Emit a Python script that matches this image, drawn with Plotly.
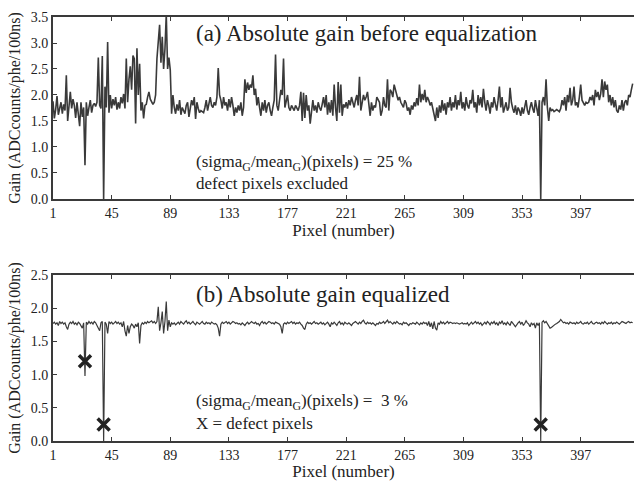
import plotly.graph_objects as go

gain_before = [
    1.88, 1.55, 1.72, 1.98, 1.62, 1.78, 1.86, 1.64, 1.82, 1.70,
    2.38, 1.50, 1.84, 2.06, 1.74, 1.92, 1.80, 1.56, 1.86, 1.68,
    1.40, 1.86, 1.58, 1.76, 0.65, 1.86, 1.60, 1.76, 1.90, 1.66,
    1.80, 1.84, 1.78, 1.86, 2.72, 1.80, 1.74, 2.75, 0.00, 2.16,
    1.76, 3.02, 1.66, 2.00, 1.74, 1.92, 1.80, 1.96, 1.72, 1.86,
    1.74, 1.96, 1.84, 2.02, 1.74, 2.70, 1.86, 2.30, 2.55, 2.10,
    2.76, 2.70, 1.45, 2.90, 2.00, 2.60, 1.70, 1.86, 1.55, 1.80,
    1.82, 1.96, 2.06, 1.92, 1.86, 1.82, 1.86, 2.00, 2.70, 3.00,
    3.35, 2.62, 3.12, 2.50, 2.88, 3.55, 2.50, 2.72, 2.48, 1.64,
    2.00, 1.76, 1.64, 1.82, 1.70, 1.90, 1.62, 1.76, 1.70, 1.64,
    1.80, 1.86, 1.58, 1.76, 1.90, 1.80, 1.96, 1.54, 1.86, 1.74,
    1.66, 1.70, 1.68, 1.66, 1.76, 1.90, 1.70, 1.86, 1.96, 1.80,
    1.76, 1.86, 1.80, 1.96, 2.52, 2.00, 1.90, 1.74, 1.96, 1.80,
    1.86, 1.70, 1.92, 1.76, 1.96, 1.80, 1.60, 1.76, 1.66, 1.80,
    1.70, 1.86, 1.60, 1.76, 2.30, 2.04, 2.24, 2.10, 2.20, 2.14,
    2.38, 2.00, 2.12, 1.80, 1.96, 1.76, 1.60, 1.86, 1.70, 1.90,
    1.66, 1.80, 1.86, 1.70, 1.60, 1.76, 1.90, 2.78, 1.80, 1.70,
    1.86, 2.10, 2.00, 2.70, 1.76, 1.86, 2.00, 1.76, 1.70, 1.80,
    1.74, 1.70, 1.80, 1.74, 1.70, 1.80, 2.06, 1.50, 2.04, 1.56,
    2.00, 1.70, 1.80, 1.45, 1.76, 1.90, 1.70, 1.80, 1.66, 1.86,
    1.76, 1.70, 1.82, 1.96, 1.76, 2.00, 1.62, 1.86, 1.66, 1.90,
    1.60, 2.20, 1.76, 1.50, 2.25, 1.66, 2.20, 1.60, 1.82, 1.76,
    1.86, 1.74, 1.90, 1.80, 1.96, 1.86, 1.76, 1.90, 2.00, 1.80,
    2.35, 1.70, 1.86, 2.00, 1.90, 1.96, 2.06, 1.76, 1.60, 1.86,
    1.70, 1.80, 1.76, 1.96, 1.90, 1.86, 1.60, 1.70, 1.96, 1.80,
    1.76, 2.30, 1.70, 2.10, 2.06, 1.96, 2.20, 2.06, 2.00, 1.90,
    1.96, 1.86, 1.80, 1.76, 1.90, 1.84, 1.70, 1.76, 1.62, 1.80,
    1.72, 1.86, 1.78, 1.94, 1.80, 2.20, 1.86, 2.02, 1.90, 2.10,
    1.86, 1.96, 1.90, 1.80, 1.86, 1.74, 1.66, 1.50, 1.76, 1.56,
    1.80, 1.66, 1.90, 1.70, 1.84, 1.62, 1.86, 1.76, 1.96, 1.70,
    1.86, 1.76, 2.00, 1.72, 1.90, 1.80, 2.06, 1.74, 1.86, 1.70,
    1.96, 1.80, 1.74, 1.90, 1.84, 2.10, 1.76, 1.86, 1.66, 2.00,
    1.80, 1.96, 1.76, 2.12, 1.86, 1.70, 1.90, 1.80, 1.64, 1.86,
    1.76, 1.96, 1.82, 1.70, 1.90, 2.16, 1.76, 1.96, 1.66, 1.80,
    1.86, 1.70, 1.76, 2.14, 1.86, 1.74, 1.66, 1.80, 1.62, 1.76,
    1.70, 1.60, 1.76, 1.64, 1.80, 1.90, 1.70, 1.62, 1.76, 1.86,
    1.74, 1.66, 1.90, 1.70, 1.60, 1.90, 0.00, 1.86, 1.96, 1.80,
    2.30, 1.76, 1.50, 1.76, 1.70, 1.72, 1.68, 1.70, 1.72, 1.70,
    1.68, 1.74, 1.90, 1.80, 1.96, 1.70, 2.00, 1.86, 2.14, 1.80,
    1.90, 2.16, 1.80, 1.86, 1.76, 1.96, 2.20, 1.90, 1.86, 1.80,
    1.86, 1.84, 1.86, 1.96, 1.90, 2.00, 1.80, 2.10, 1.96, 2.06,
    1.90, 2.02, 2.30, 1.96, 2.26, 2.10, 2.20, 1.86, 2.00, 1.80,
    1.96, 1.76, 1.90, 1.70, 1.66, 1.80, 1.72, 1.90, 1.70, 1.86,
    1.90, 1.80, 2.00, 1.96, 2.10, 2.22,
]

gain_after = [
    1.77, 1.79, 1.76, 1.78, 1.74, 1.80, 1.77, 1.79, 1.76, 1.78,
    1.72, 1.68, 1.76, 1.79, 1.77, 1.80, 1.76, 1.78, 1.75, 1.79,
    1.77, 1.72, 1.70, 1.78, 0.98, 1.79, 1.76, 1.80, 1.77, 1.79,
    1.76, 1.80, 1.78, 1.74, 1.70, 1.66, 1.78, 1.80, 0.00, 1.79,
    1.76, 1.62, 1.80, 1.77, 1.79, 1.76, 1.78, 1.80, 1.77, 1.79,
    1.76, 1.78, 1.72, 1.80, 1.66, 1.58, 1.74, 1.62, 1.72, 1.76,
    1.74, 1.70, 1.76, 1.72, 1.78, 1.47, 1.74, 1.78, 1.76, 1.79,
    1.77, 1.80, 1.78, 1.79, 1.81, 1.78, 1.80, 1.77, 1.80, 2.02,
    1.66, 1.78, 1.95, 1.62, 1.80, 2.10, 1.66, 1.82, 1.72, 1.78,
    1.76, 1.78, 1.75, 1.77, 1.79, 1.76, 1.80, 1.78, 1.76, 1.79,
    1.81, 1.77, 1.79, 1.76, 1.78, 1.80, 1.77, 1.75, 1.79, 1.78,
    1.76, 1.78, 1.80, 1.77, 1.76, 1.79, 1.77, 1.78, 1.76, 1.79,
    1.78, 1.76, 1.77, 1.75, 1.70, 1.58, 1.76, 1.79, 1.77, 1.78,
    1.80, 1.77, 1.79, 1.76, 1.78, 1.80, 1.79, 1.77, 1.78, 1.76,
    1.77, 1.75, 1.78, 1.76, 1.74, 1.77, 1.79, 1.76, 1.78, 1.80,
    1.78, 1.77, 1.79, 1.76, 1.77, 1.74, 1.78, 1.80, 1.77, 1.79,
    1.76, 1.78, 1.80, 1.79, 1.77, 1.78, 1.76, 1.79, 1.78, 1.77,
    1.76, 1.72, 1.62, 1.76, 1.78, 1.76, 1.79, 1.77, 1.78, 1.80,
    1.77, 1.79, 1.76, 1.78, 1.77, 1.79, 1.76, 1.74, 1.70, 1.68,
    1.76, 1.79, 1.77, 1.78, 1.76, 1.79, 1.80, 1.77, 1.78, 1.76,
    1.77, 1.79, 1.76, 1.78, 1.75, 1.77, 1.79, 1.76, 1.72, 1.78,
    1.76, 1.79, 1.77, 1.74, 1.78, 1.80, 1.76, 1.78, 1.75, 1.79,
    1.77, 1.76, 1.78, 1.75, 1.74, 1.77, 1.79, 1.80, 1.78, 1.76,
    1.79, 1.77, 1.80, 1.82, 1.78, 1.76, 1.79, 1.77, 1.78, 1.76,
    1.78, 1.76, 1.74, 1.77, 1.76, 1.79, 1.77, 1.78, 1.80, 1.77,
    1.79, 1.82, 1.78, 1.80, 1.78, 1.76, 1.79, 1.77, 1.80, 1.78,
    1.76, 1.77, 1.75, 1.79, 1.77, 1.78, 1.76, 1.74, 1.77, 1.76,
    1.78, 1.77, 1.76, 1.79, 1.77, 1.75, 1.78, 1.76, 1.79, 1.77,
    1.78, 1.74, 1.80, 1.72, 1.78, 1.69, 1.80, 1.70, 1.67, 1.78,
    1.76, 1.80, 1.77, 1.79, 1.76, 1.78, 1.80, 1.77, 1.79, 1.78,
    1.77, 1.78, 1.77, 1.78, 1.77, 1.76, 1.77, 1.78, 1.76, 1.77,
    1.76, 1.78, 1.74, 1.77, 1.79, 1.76, 1.78, 1.80, 1.77, 1.79,
    1.76, 1.78, 1.74, 1.77, 1.79, 1.76, 1.80, 1.78, 1.75, 1.79,
    1.77, 1.80, 1.76, 1.78, 1.74, 1.79, 1.77, 1.81, 1.76, 1.78,
    1.75, 1.79, 1.77, 1.74, 1.80, 1.78, 1.75, 1.72, 1.76, 1.78,
    1.80, 1.76, 1.79, 1.74, 1.77, 1.81, 1.78, 1.76, 1.72, 1.78,
    1.75, 1.77, 1.70, 1.78, 1.74, 1.78, 0.00, 1.79, 1.81, 1.78,
    1.80, 1.76, 1.72, 1.70, 1.71, 1.73, 1.75, 1.76, 1.77, 1.78,
    1.80, 1.83, 1.80, 1.78, 1.79, 1.77, 1.78, 1.76, 1.79, 1.78,
    1.77, 1.78, 1.76, 1.79, 1.77, 1.78, 1.80, 1.77, 1.76, 1.78,
    1.77, 1.79, 1.76, 1.78, 1.80, 1.77, 1.76, 1.78, 1.79, 1.77,
    1.78, 1.76, 1.79, 1.77, 1.80, 1.78, 1.76, 1.78, 1.77, 1.79,
    1.76, 1.78, 1.77, 1.79, 1.78, 1.76, 1.78, 1.80, 1.79, 1.78,
    1.77, 1.79, 1.80, 1.78, 1.79, 1.78,
]

pixels_before = list(range(1, len(gain_before) + 1))
pixels_after = list(range(1, len(gain_after) + 1))

defect_pixels = [25, 39, 367]
defect_marks = [1.2, 0.25, 0.25]

x_ticks = [1, 45, 89, 133, 177, 221, 265, 309, 353, 397]
y_ticks_top = [0.0, 0.5, 1.0, 1.5, 2.0, 2.5, 3.0, 3.5]
y_ticks_bot = [0.0, 0.5, 1.0, 1.5, 2.0, 2.5]

FONT = "Liberation Serif, Times New Roman, DejaVu Serif, serif"
INK = "#3a3a3a"
TXT = "#222222"

fig = go.Figure()
fig.add_trace(go.Scatter(x=pixels_before, y=gain_before, mode="lines",
                         line=dict(color=INK, width=1.6), xaxis="x", yaxis="y",
                         showlegend=False))
fig.add_trace(go.Scatter(x=pixels_after, y=gain_after, mode="lines",
                         line=dict(color=INK, width=1.2), xaxis="x2", yaxis="y2",
                         showlegend=False))
fig.add_trace(go.Scatter(x=defect_pixels, y=defect_marks, mode="markers",
                         marker=dict(symbol="x-thin", size=12,
                                     line=dict(color=TXT, width=3.5)),
                         xaxis="x2", yaxis="y2", showlegend=False))

axis_common = dict(
    showline=True, linecolor=INK, linewidth=2, ticks="inside", ticklen=4,
    tickcolor=INK, showgrid=False, zeroline=False, automargin=False,
    tickfont=dict(family=FONT, size=14, color=TXT),
)
xt = dict(text="Pixel (number)", font=dict(family=FONT, size=17, color=TXT), standoff=4)
yt = dict(text="Gain (ADCcounts/phe/100ns)", font=dict(family=FONT, size=16, color=TXT), standoff=6)

fig.update_layout(
    width=634, height=481,
    margin=dict(l=53, r=0, t=17, b=40),
    paper_bgcolor="white", plot_bgcolor="white",
    font=dict(family=FONT, color=TXT),
    xaxis=dict(domain=[0, 1], range=[1, 437], anchor="y", tickvals=x_ticks,
               mirror="ticks", title=xt, **axis_common),
    yaxis=dict(domain=[0.5708, 1], range=[0, 3.5], anchor="x", tickvals=y_ticks_top,
               tickformat=".1f", title=yt, **axis_common),
    xaxis2=dict(domain=[0, 1], range=[1, 437], anchor="y2", tickvals=x_ticks,
                mirror="ticks", title=xt, **axis_common),
    yaxis2=dict(domain=[0, 0.3915], range=[0, 2.5], anchor="x2", tickvals=y_ticks_bot,
                tickformat=".1f", title=yt, **axis_common),
)

def note(text, x, y, xref, yref, size):
    return dict(text=text, x=x, y=y, xref=xref, yref=yref, xanchor="left",
                yanchor="middle", showarrow=False,
                font=dict(family=FONT, size=size, color=TXT))

ann = [
    note("(a) Absolute gain before equalization", 107, 3.19, "x", "y", 23),
    note("(sigma<sub>G</sub>/mean<sub>G</sub>)(pixels) = 25 %", 107, 0.69, "x", "y", 17),
    note("defect pixels excluded", 107, 0.29, "x", "y", 17),
    note("(b) Absolute gain equalized", 107, 2.2, "x2", "y2", 23),
    note("(sigma<sub>G</sub>/mean<sub>G</sub>)(pixels) =  3 %", 107, 0.59, "x2", "y2", 17),
    note("X = defect pixels", 107, 0.27, "x2", "y2", 17),
]
fig.update_layout(annotations=ann)

fig.write_html("out.html", config={"displayModeBar": False},
               post_script="document.body.style.margin='0';")
